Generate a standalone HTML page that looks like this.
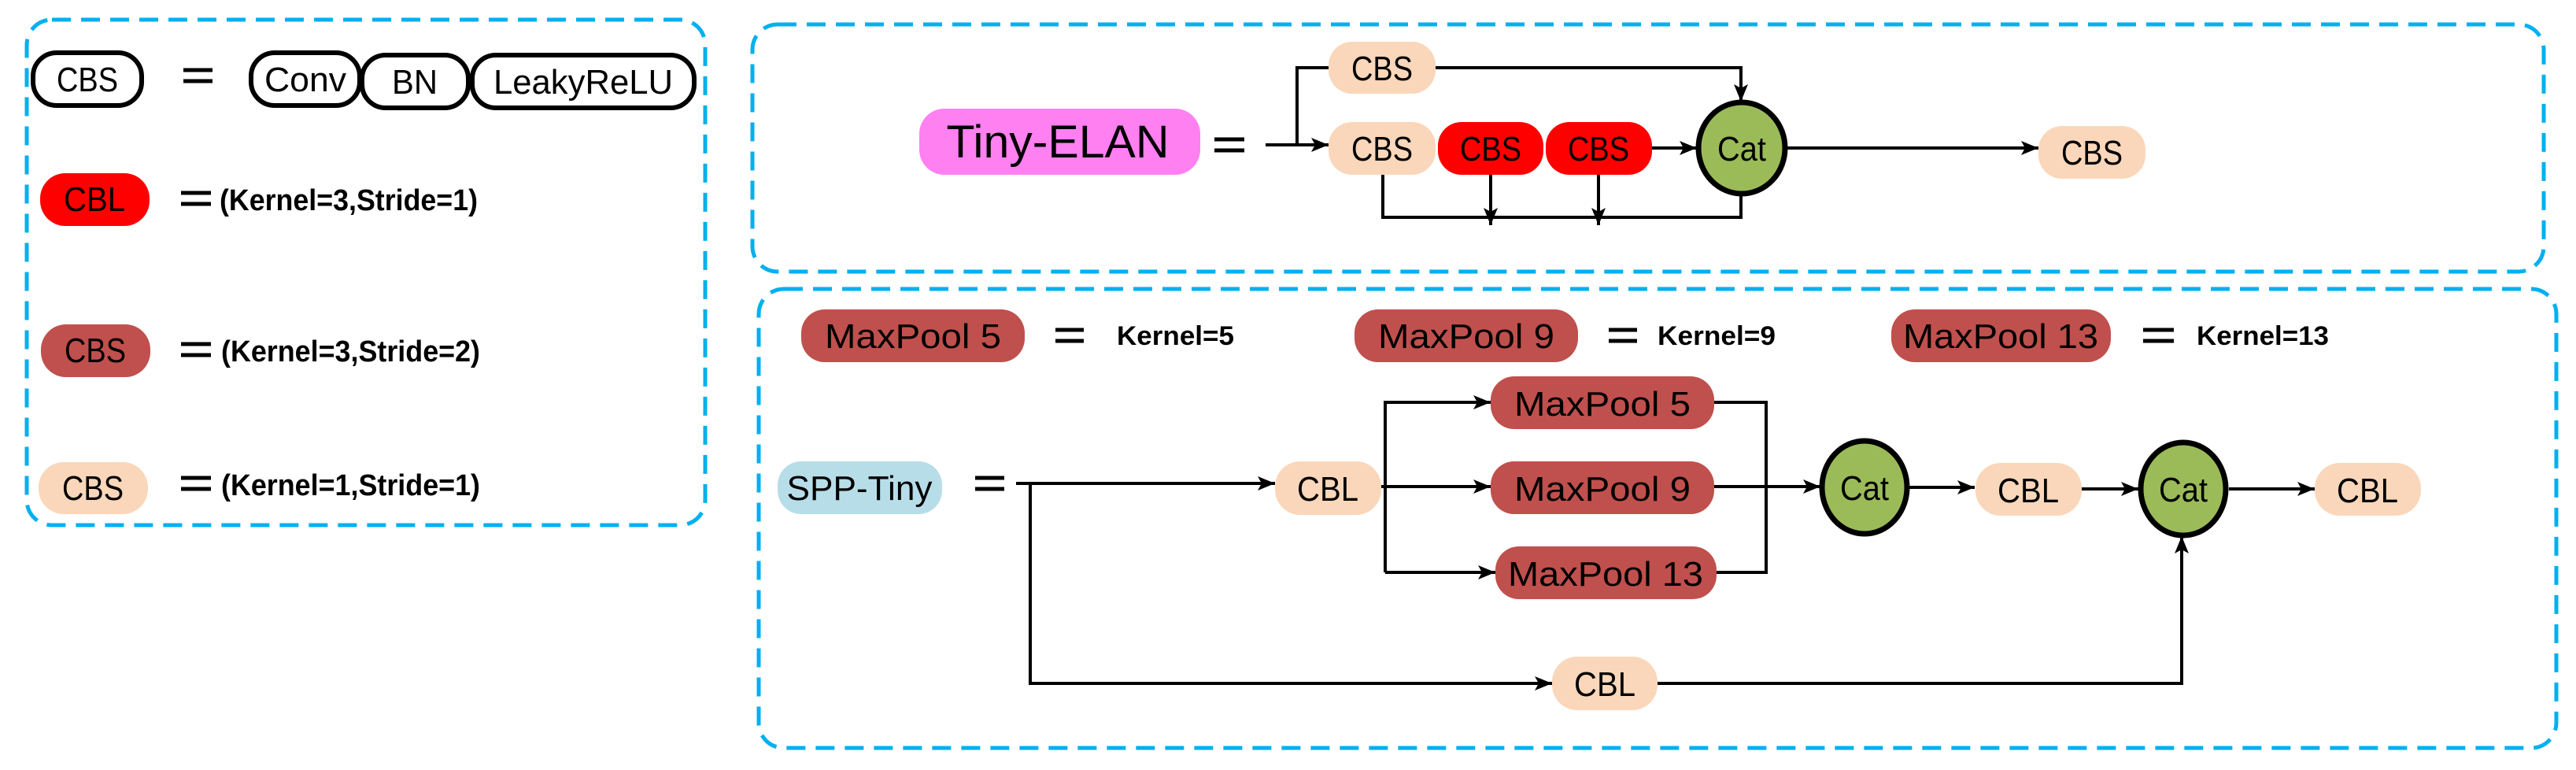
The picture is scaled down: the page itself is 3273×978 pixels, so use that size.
<!DOCTYPE html>
<html><head><meta charset="utf-8"><style>
html,body{margin:0;padding:0;background:#fff;}
svg{display:block;}
text{font-family:"Liberation Sans",sans-serif;}
</style></head><body>
<svg width="3273" height="978" viewBox="0 0 3273 978" xmlns="http://www.w3.org/2000/svg">
<defs>
<marker id="a" viewBox="0 0 22 18" refX="22" refY="9" markerWidth="22" markerHeight="18" markerUnits="userSpaceOnUse" orient="auto">
<path d="M0,0 L22,9 L0,18 L5,9 Z" fill="#000"/>
</marker>
</defs>
<g fill="none" stroke="#00b0f0" stroke-width="5" stroke-dasharray="24,13">
<rect x="34" y="25" width="862" height="642" rx="32"/>
<rect x="956" y="31" width="2276" height="314" rx="32"/>
<rect x="964" y="367" width="2284" height="583" rx="32"/>
</g>

<g stroke="#000" stroke-width="6" fill="#fff">
<rect x="42" y="67" width="138" height="67" rx="30"/>
<rect x="319" y="67" width="138" height="67" rx="30"/>
<rect x="460" y="70" width="135" height="67" rx="30"/>
<rect x="600" y="70" width="282" height="67" rx="30"/>
</g>
<g font-size="44" text-anchor="middle">
<text x="111" y="116" textLength="78" lengthAdjust="spacingAndGlyphs">CBS</text>
<text x="388" y="116" textLength="104" lengthAdjust="spacingAndGlyphs">Conv</text>
<text x="527" y="119" textLength="58" lengthAdjust="spacingAndGlyphs">BN</text>
<text x="741" y="119" textLength="228" lengthAdjust="spacingAndGlyphs">LeakyReLU</text>
</g>
<g stroke="#000" stroke-width="5">
<line x1="233" y1="89" x2="270" y2="89"/><line x1="233" y1="103" x2="270" y2="103"/>
<line x1="230" y1="245" x2="268" y2="245"/><line x1="230" y1="259" x2="268" y2="259"/>
<line x1="230" y1="437" x2="268" y2="437"/><line x1="230" y1="451" x2="268" y2="451"/>
<line x1="230" y1="607" x2="268" y2="607"/><line x1="230" y1="621" x2="268" y2="621"/>
</g>
<rect x="51" y="220" width="139" height="67" rx="32" fill="#ff0000"/>
<rect x="52" y="412" width="139" height="67" rx="32" fill="#c0504d"/>
<rect x="49" y="587" width="139" height="66" rx="32" fill="#fad7ba"/>
<g font-size="44" text-anchor="middle">
<text x="120" y="268" textLength="78" lengthAdjust="spacingAndGlyphs">CBL</text>
<text x="121" y="460" textLength="78" lengthAdjust="spacingAndGlyphs">CBS</text>
<text x="118" y="635" textLength="78" lengthAdjust="spacingAndGlyphs">CBS</text>
</g>
<g font-size="38" font-weight="bold">
<text x="279" y="267" textLength="328" lengthAdjust="spacingAndGlyphs">(Kernel=3,Stride=1)</text>
<text x="281" y="459" textLength="329" lengthAdjust="spacingAndGlyphs">(Kernel=3,Stride=2)</text>
<text x="281" y="629" textLength="329" lengthAdjust="spacingAndGlyphs">(Kernel=1,Stride=1)</text>
</g>

<rect x="1168" y="138" width="357" height="84" rx="32" fill="#ff80f0"/>
<text x="1344" y="200" font-size="58" text-anchor="middle" textLength="283" lengthAdjust="spacingAndGlyphs">Tiny-ELAN</text>
<g stroke="#000" stroke-width="5">
<line x1="1543" y1="177" x2="1581" y2="177"/><line x1="1543" y1="191" x2="1581" y2="191"/>
</g>
<g stroke="#000" stroke-width="4" fill="none">
<line x1="1608" y1="184" x2="1688" y2="184" marker-end="url(#a)"/>
<polyline points="1648,184 1648,86 1688,86"/>
<polyline points="1824,86 2212,86 2212,129" marker-end="url(#a)"/>
<line x1="2099" y1="188" x2="2156" y2="188" marker-end="url(#a)"/>
<polyline points="1757,222 1757,276 2212,276 2212,248"/>
<line x1="1894" y1="222" x2="1894" y2="286" marker-end="url(#a)"/>
<line x1="2031" y1="222" x2="2031" y2="286" marker-end="url(#a)"/>
<line x1="2271" y1="188" x2="2590" y2="188" marker-end="url(#a)"/>
</g>
<rect x="1688" y="53" width="136" height="66" rx="30" fill="#fad7ba"/>
<rect x="1688" y="155" width="136" height="67" rx="30" fill="#fad7ba"/>
<rect x="1827" y="155" width="134" height="67" rx="30" fill="#ff0000"/>
<rect x="1964" y="155" width="135" height="67" rx="30" fill="#ff0000"/>
<rect x="2590" y="160" width="136" height="67" rx="30" fill="#fad7ba"/>
<ellipse cx="2213" cy="188" rx="55" ry="58" fill="#9bbb59" stroke="#000" stroke-width="7"/>
<g font-size="44" text-anchor="middle">
<text x="1756" y="102" textLength="78" lengthAdjust="spacingAndGlyphs">CBS</text>
<text x="1756" y="204" textLength="78" lengthAdjust="spacingAndGlyphs">CBS</text>
<text x="1894" y="204" textLength="78" lengthAdjust="spacingAndGlyphs">CBS</text>
<text x="2031" y="204" textLength="78" lengthAdjust="spacingAndGlyphs">CBS</text>
<text x="2213" y="204" textLength="62" lengthAdjust="spacingAndGlyphs">Cat</text>
<text x="2658" y="209" textLength="78" lengthAdjust="spacingAndGlyphs">CBS</text>
</g>

<rect x="1018" y="393" width="284" height="67" rx="30" fill="#c0504d"/>
<rect x="1721" y="393" width="284" height="67" rx="30" fill="#c0504d"/>
<rect x="2403" y="393" width="279" height="67" rx="30" fill="#c0504d"/>
<g font-size="44" text-anchor="middle">
<text x="1160" y="442" textLength="224" lengthAdjust="spacingAndGlyphs">MaxPool 5</text>
<text x="1863" y="442" textLength="224" lengthAdjust="spacingAndGlyphs">MaxPool 9</text>
<text x="2542" y="442" textLength="248" lengthAdjust="spacingAndGlyphs">MaxPool 13</text>
</g>
<g stroke="#000" stroke-width="5">
<line x1="1341" y1="419" x2="1377" y2="419"/><line x1="1341" y1="433" x2="1377" y2="433"/>
<line x1="2044" y1="419" x2="2080" y2="419"/><line x1="2044" y1="433" x2="2080" y2="433"/>
<line x1="2723" y1="419" x2="2762" y2="419"/><line x1="2723" y1="433" x2="2762" y2="433"/>
<line x1="1239" y1="607" x2="1276" y2="607"/><line x1="1239" y1="621" x2="1276" y2="621"/>
</g>
<g font-size="34" font-weight="bold">
<text x="1419" y="438" textLength="149" lengthAdjust="spacingAndGlyphs">Kernel=5</text>
<text x="2106" y="438" textLength="150" lengthAdjust="spacingAndGlyphs">Kernel=9</text>
<text x="2791" y="438" textLength="168" lengthAdjust="spacingAndGlyphs">Kernel=13</text>
</g>

<rect x="988" y="586" width="209" height="67" rx="30" fill="#b7dde8"/>
<text x="1092" y="635" font-size="44" text-anchor="middle" textLength="185" lengthAdjust="spacingAndGlyphs">SPP-Tiny</text>
<g stroke="#000" stroke-width="4" fill="none">
<line x1="1291" y1="614" x2="1620" y2="614" marker-end="url(#a)"/>
<polyline points="1309,614 1309,868 1972,868" marker-end="url(#a)"/>
<line x1="1755" y1="618" x2="1894" y2="618" marker-end="url(#a)"/>
<polyline points="1760,727 1760,511 1894,511" marker-end="url(#a)"/>
<line x1="1760" y1="727" x2="1900" y2="727" marker-end="url(#a)"/>
<polyline points="2178,511 2244,511 2244,727 2181,727"/>
<line x1="2178" y1="618" x2="2313" y2="618" marker-end="url(#a)"/>
<line x1="2425" y1="619" x2="2509" y2="619" marker-end="url(#a)"/>
<line x1="2645" y1="621" x2="2717" y2="621" marker-end="url(#a)"/>
<line x1="2832" y1="621" x2="2941" y2="621" marker-end="url(#a)"/>
<polyline points="2106,868 2772,868 2772,681" marker-end="url(#a)"/>
</g>
<rect x="1620" y="586" width="135" height="68" rx="32" fill="#fad7ba"/>
<rect x="1894" y="478" width="284" height="67" rx="30" fill="#c0504d"/>
<rect x="1894" y="586" width="284" height="67" rx="30" fill="#c0504d"/>
<rect x="1900" y="694" width="281" height="67" rx="30" fill="#c0504d"/>
<rect x="2510" y="588" width="135" height="67" rx="32" fill="#fad7ba"/>
<rect x="2941" y="588" width="135" height="67" rx="32" fill="#fad7ba"/>
<rect x="1972" y="834" width="134" height="68" rx="32" fill="#fad7ba"/>
<ellipse cx="2369" cy="619" rx="54" ry="59" fill="#9bbb59" stroke="#000" stroke-width="7"/>
<ellipse cx="2774" cy="621" rx="54" ry="59" fill="#9bbb59" stroke="#000" stroke-width="7"/>
<g font-size="44" text-anchor="middle">
<text x="1687" y="636" textLength="78" lengthAdjust="spacingAndGlyphs">CBL</text>
<text x="2036" y="528" textLength="224" lengthAdjust="spacingAndGlyphs">MaxPool 5</text>
<text x="2036" y="636" textLength="224" lengthAdjust="spacingAndGlyphs">MaxPool 9</text>
<text x="2040" y="744" textLength="248" lengthAdjust="spacingAndGlyphs">MaxPool 13</text>
<text x="2369" y="635" textLength="62" lengthAdjust="spacingAndGlyphs">Cat</text>
<text x="2577" y="638" textLength="78" lengthAdjust="spacingAndGlyphs">CBL</text>
<text x="2774" y="637" textLength="62" lengthAdjust="spacingAndGlyphs">Cat</text>
<text x="3008" y="638" textLength="78" lengthAdjust="spacingAndGlyphs">CBL</text>
<text x="2039" y="884" textLength="78" lengthAdjust="spacingAndGlyphs">CBL</text>
</g>
</svg>
</body></html>
